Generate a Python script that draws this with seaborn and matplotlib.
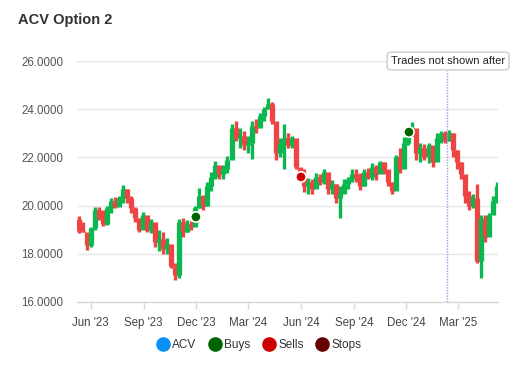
import matplotlib
matplotlib.use("Agg")
import matplotlib.pyplot as plt
import matplotlib.dates as mdates
from matplotlib.lines import Line2D
import numpy as np
import pandas as pd
import seaborn as sns

# ---------------- data ----------------
first_open = 19.45
closes = [18.95, 18.9, 18.35, 19.05, 19.8, 19.5, 19.25, 19.9, 20.2, 19.95,
          20.3, 20.7, 20.3, 19.9, 19.5, 19.0, 19.6, 19.0, 19.3, 18.5,
          18.6, 18.2, 18.4, 17.5, 17.1, 19.3, 18.9, 19.25, 19.1, 19.9,
          20.4, 20.0, 20.8, 21.2, 21.7, 21.3, 21.5, 21.9, 23.2, 22.8,
          22.9, 22.5, 22.6, 23.3, 23.2, 23.7, 24.0, 24.2, 23.5, 22.2,
          22.6, 22.8, 22.5, 22.8, 21.6, 21.2, 20.8, 21.0, 20.7, 21.2,
          21.0, 21.4, 20.7, 20.9, 20.3, 20.5, 20.9, 21.1, 21.3, 21.2,
          20.8, 21.4, 21.2, 21.6, 21.3, 21.8, 21.5, 21.0, 20.6, 22.0,
          21.5, 22.6, 22.9, 23.2, 22.2, 22.4, 22.0, 22.5, 21.8, 22.8,
          23.0, 22.7, 23.0, 22.3, 21.8, 21.3, 20.4, 20.0, 20.3, 17.7,
          19.5, 18.7, 19.6, 20.2, 20.8]
highs = [19.55, 19.3, 18.6, 19.1, 19.95, 19.95, 19.8, 20.0, 20.3, 20.35,
         20.4, 20.85, 20.7, 20.4, 19.95, 19.5, 19.75, 19.4, 19.45, 19.2,
         19.0, 18.9, 18.65, 18.3, 17.6, 19.45, 19.5, 19.4, 19.35, 20.0,
         20.75, 20.45, 21.0, 21.4, 21.85, 21.65, 21.7, 22.05, 23.4, 23.5,
         23.2, 23.1, 22.9, 23.5, 23.6, 23.85, 24.1, 24.45, 24.3, 23.4,
         22.8, 23.4, 23.0, 22.9, 22.75, 21.5, 21.5, 21.15, 21.1, 21.35,
         21.3, 21.5, 21.25, 21.05, 20.9, 20.8, 21.1, 21.2, 21.5, 21.5,
         21.35, 21.5, 21.55, 21.75, 21.7, 21.85, 21.8, 21.4, 21.0, 22.1,
         22.4, 22.85, 23.05, 23.45, 23.0, 22.6, 22.55, 22.6, 22.3, 23.0,
         23.1, 23.1, 23.15, 23.0, 22.3, 21.8, 21.2, 20.6, 20.5, 20.9,
         19.6, 19.6, 19.7, 20.4, 21.0]
lows = [18.85, 18.9, 18.15, 18.3, 19.0, 19.4, 19.15, 19.2, 19.7, 19.9,
        20.0, 20.1, 20.1, 19.7, 19.3, 18.9, 19.1, 18.9, 18.85, 18.3,
        18.1, 18.0, 18.0, 17.4, 16.9, 17.0, 18.7, 18.9, 19.0, 19.4,
        19.9, 19.8, 20.0, 20.6, 21.1, 21.1, 21.1, 21.35, 22.0, 22.7,
        22.4, 22.3, 22.2, 21.95, 23.0, 23.3, 23.5, 24.0, 23.4, 21.9,
        22.0, 21.5, 22.4, 22.4, 21.5, 21.1, 20.55, 20.5, 20.5, 20.8,
        20.85, 20.9, 20.5, 20.5, 20.1, 19.5, 20.6, 20.7, 21.0, 21.0,
        20.65, 20.8, 21.1, 21.05, 21.05, 21.5, 21.3, 20.8, 20.5, 21.4,
        21.35, 22.1, 22.5, 22.9, 21.9, 21.8, 21.9, 21.75, 21.6, 22.3,
        22.6, 22.6, 22.7, 22.0, 21.5, 21.1, 20.1, 19.8, 19.9, 17.6,
        17.0, 18.5, 18.9, 19.7, 20.1]

trade_dates = ["2023-12-01", "2024-06-01", "2024-12-06"]
trade_prices = [19.53, 21.19, 23.05]
trade_kinds = ["Buys", "Sells", "Buys"]

y_ticks = [16, 18, 20, 22, 24, 26]
x_tick_dates = ["2023-06-01", "2023-09-01", "2023-12-01", "2024-03-01",
                "2024-06-01", "2024-09-01", "2024-12-01", "2025-03-01"]
x_tick_labels = ["Jun '23", "Sep '23", "Dec '23", "Mar '24",
                 "Jun '24", "Sep '24", "Dec '24", "Mar '25"]
cutoff_date = "2025-02-10"
legend_names = ["ACV", "Buys", "Sells", "Stops"]
legend_colors = ["#0a8ff5", "#006400", "#cc0000", "#660000"]

# ---------------- build frame ----------------
dates = pd.date_range("2023-05-11", periods=len(closes), freq="7D")
opens = [first_open] + closes[:-1]
df = pd.DataFrame({"date": dates, "open": opens, "close": closes,
                   "high": highs, "low": lows})
df["up"] = df["close"] >= df["open"]

sns.set_theme(style="white")
plt.rcParams["font.family"] = ["Liberation Sans", "DejaVu Sans"]

fig = plt.figure(figsize=(5.3, 3.8), dpi=100)
ax = fig.add_axes([77 / 530, 1 - 302 / 380, 421 / 530, (302 - 61) / 380])

green = "#0bb84f"
red = "#ef4444"
xd = mdates.date2num(df["date"])
cols = [green if u else red for u in df["up"]]
ax.vlines(xd, df["low"], df["high"], colors=cols, linewidth=2.4, zorder=3)
ax.vlines(xd, np.minimum(df["open"], df["close"]), np.maximum(df["open"], df["close"]),
          colors=cols, linewidth=3.8, zorder=3)

# trades
tdf = pd.DataFrame({"date": pd.to_datetime(trade_dates), "price": trade_prices,
                    "kind": trade_kinds})
tdf["x"] = mdates.date2num(tdf["date"])
sns.scatterplot(data=tdf, x="x", y="price", hue="kind",
                palette={"Buys": "#006400", "Sells": "#cc0000"},
                s=55, edgecolor="white", linewidth=1.2, zorder=5,
                legend=False, ax=ax)

# axes styling
ax.set_ylim(16, 26)
ax.set_xlim(mdates.date2num(pd.Timestamp("2023-05-08")),
            mdates.date2num(pd.Timestamp("2025-05-10")))
ax.set_yticks(y_ticks)
ax.set_yticklabels([f"{v:.4f}" for v in y_ticks])
ax.set_xticks(mdates.date2num(pd.to_datetime(x_tick_dates)))
ax.set_xticklabels(x_tick_labels)
ax.grid(axis="y", color="#e6e6e6", linewidth=1)
ax.set_axisbelow(True)
for s in ["top", "right", "left"]:
    ax.spines[s].set_visible(False)
ax.spines["bottom"].set_color("#d8d8d8")
ax.spines["bottom"].set_linewidth(1)
ax.tick_params(axis="y", length=0, pad=10, labelsize=8.3, labelcolor="#555555")
ax.tick_params(axis="x", length=5, width=1, color="#d8d8d8", pad=6,
               labelsize=8.3, labelcolor="#444444", direction="out", bottom=True)
ax.set_xlabel("")
ax.set_ylabel("")

# cutoff line & label
cx = mdates.date2num(pd.Timestamp(cutoff_date))
ax.plot([cx, cx], [16, 25.6], color="#9c9ce0", linestyle=(0, (1, 1)),
        linewidth=1, zorder=4)
fig.text(391 / 530, 1 - 61 / 380, "Trades not shown after", fontsize=8,
         color="#222222", va="center", ha="left",
         bbox=dict(boxstyle="round,pad=0.35", fc="white", ec="#cccccc", lw=1))

# title
fig.text(18 / 530, 1 - 20 / 380, "ACV Option 2", fontsize=10.5, fontweight="bold",
         color="#333333", va="center", ha="left")

# legend
handles = [Line2D([0], [0], marker="o", linestyle="", markersize=9.5,
                  markerfacecolor=c, markeredgecolor=c) for c in legend_colors]
fig.legend(handles, legend_names, loc="center", bbox_to_anchor=(259 / 530, 1 - 345 / 380),
           ncol=4, frameon=False, fontsize=8.5, handletextpad=0.3, columnspacing=1.05,
           handlelength=1.0, labelcolor="#333333")

fig.savefig("out.png", dpi=100)
